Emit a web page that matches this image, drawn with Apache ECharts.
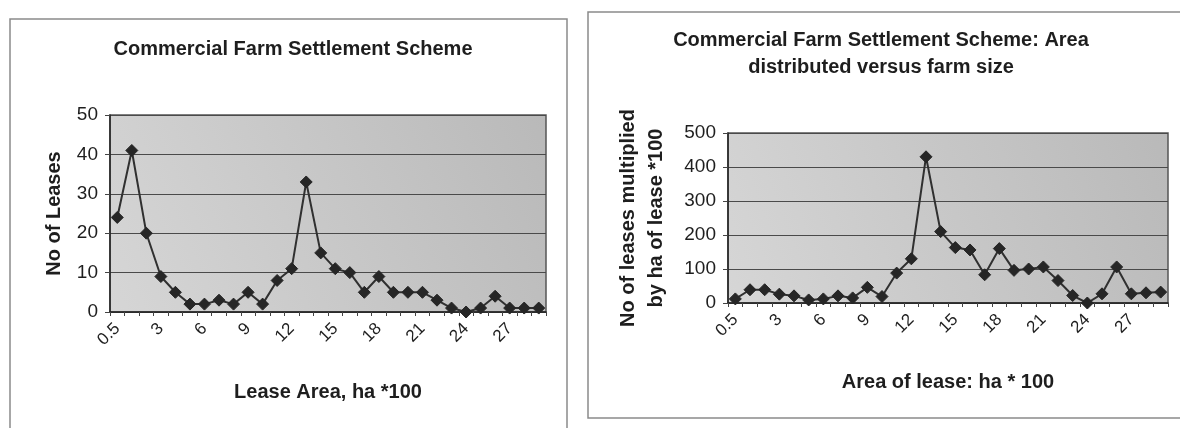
<!DOCTYPE html>
<html>
<head>
<meta charset="utf-8">
<script src="https://cdn.jsdelivr.net/npm/echarts@6/dist/echarts.min.js"></script>
<style>
html,body{margin:0;padding:0;background:#fff;}
#c{width:1180px;height:428px;}
</style>
</head>
<body>
<div id="c"></div>
<script>
// Category labels (lease area, ha * 100)
var categories = ['0.5','1','2','3','4','5','6','7','8','9','10','11','12','13','14','15','16','17','18','19','20','21','22','23','24','25','26','27','28','29'];
// Left chart: number of leases
var leases = [24,41,20,9,5,2,2,3,2,5,2,8,11,33,15,11,10,5,9,5,5,5,3,1,0,1,4,1,1,1];
// Right chart: number of leases multiplied by ha of lease * 100
var areaDistributed = [12,39,39,26,21,9,12,21,15,46,19,88,130,430,210,163,156,83,160,96,100,106,66,22,0,27,106,27,30,32];
// Tick values
var leftYTicks = {min:0, max:50, interval:10};
var rightYTicks = {min:0, max:500, interval:100};

var FONT = '"Liberation Sans", Arial, sans-serif';
var TXT = '#1e1e1e';

function plotBg(){
  return {type:'linear', x:1, y:0, x2:0, y2:1, colorStops:[
    {offset:0, color:'#b9b9b9'}, {offset:1, color:'#d6d6d6'}]};
}

function xAxis(gridIndex, name, gap){
  return {
    type:'category', gridIndex:gridIndex, data:categories, boundaryGap:true,
    name:name, nameLocation:'middle', nameGap:gap,
    nameTextStyle:{fontFamily:FONT, fontSize:20, fontWeight:'bold', color:TXT},
    axisLine:{lineStyle:{color:'#222', width:1.5}},
    axisTick:{show:true, interval:0, length:4, lineStyle:{color:'#444'}},
    axisLabel:{interval:2, rotate:45, fontFamily:FONT, fontSize:17, color:TXT, margin:14}
  };
}
function yAxis(gridIndex, t, name, gap, lh){
  return {
    type:'value', gridIndex:gridIndex, min:t.min, max:t.max, interval:t.interval,
    name:name, nameLocation:'middle', nameGap:gap,
    nameTextStyle:{fontFamily:FONT, fontSize:20, fontWeight:'bold', color:TXT, lineHeight:lh},
    axisLine:{show:true, lineStyle:{color:'#222', width:1.5}},
    axisTick:{show:true, length:5, lineStyle:{color:'#444'}},
    axisLabel:{fontFamily:FONT, fontSize:19, color:TXT, margin:12},
    splitLine:{show:true, lineStyle:{color:'#4a4a4a', width:1.2}}
  };
}
function series(idx, data){
  return {
    type:'line', xAxisIndex:idx, yAxisIndex:idx, data:data,
    symbol:'diamond', symbolSize:12, showAllSymbol:true,
    itemStyle:{color:'#262626', borderColor:'#262626'},
    lineStyle:{color:'#303030', width:2},
    animation:false
  };
}

var chart = echarts.init(document.getElementById('c'), null, {renderer:'canvas'});
chart.setOption({
  backgroundColor:'#ffffff',
  animation:false,
  title:[
    {text:'Commercial Farm Settlement Scheme', left:288, top:34, textAlign:'center',
     textStyle:{fontFamily:FONT, fontSize:20, fontWeight:'bold', color:TXT}},
    {text:'Commercial Farm Settlement Scheme: Area\ndistributed versus farm size', left:876, top:22, textAlign:'center',
     textStyle:{fontFamily:FONT, fontSize:20, fontWeight:'bold', color:TXT, lineHeight:27}}
  ],
  grid:[
    {left:110, top:115, width:436, height:197, show:true, backgroundColor:plotBg(), borderColor:'#555', borderWidth:1.5},
    {left:728, top:133, width:440, height:170, show:true, backgroundColor:plotBg(), borderColor:'#555', borderWidth:1.5}
  ],
  xAxis:[ xAxis(0, 'Lease Area, ha *100', 70), xAxis(1, 'Area of lease: ha * 100', 69) ],
  yAxis:[ yAxis(0, leftYTicks, 'No of Leases', 44, 24),
          yAxis(1, rightYTicks, 'No of leases multiplied\nby ha of lease *100', 58, 28) ],
  series:[ series(0, leases), series(1, areaDistributed) ],
  graphic:[
    {type:'rect', shape:{x:10, y:19, width:557, height:430}, style:{fill:null, stroke:'#8a8a8a', lineWidth:1.5}, silent:true, z:-1},
    {type:'rect', shape:{x:588, y:12, width:610, height:406}, style:{fill:null, stroke:'#8a8a8a', lineWidth:1.5}, silent:true, z:-1}
  ]
});
</script>
</body>
</html>
